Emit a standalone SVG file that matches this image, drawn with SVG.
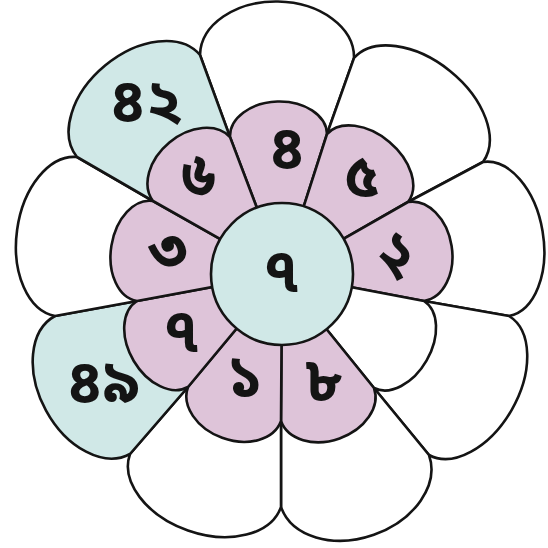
<svg xmlns="http://www.w3.org/2000/svg" width="548" height="548" viewBox="0 0 548 548">
<style>
.p{stroke:#141414;stroke-width:2.6;stroke-linejoin:round}
.w{fill:#ffffff}
.b{fill:#d0e8e7}
.k{fill:#dec4d9}
.t{font-family:"Noto Sans Bengali","Noto Serif Bengali","Lohit Bengali","Noto Sans",sans-serif;font-size:60px;font-weight:700;fill:#141414;text-anchor:middle;dominant-baseline:central}
</style>
<rect width="548" height="548" fill="#ffffff"/>
<g id="outer">
<g id="outer-top"><path class="p w" d="M200 55 A77 55 1.1 0 1 354 58 L327 134 L282 274 L230 137 Z"/></g>
<g id="outer-upper-right"><path class="p w" d="M354 58 A82.9 52 38.9 0 1 483 162 L408 202 L282 274 L327 134 Z"/></g>
<g id="outer-right"><path class="p w" d="M483 162 A78.1 48 80.4 0 1 509 316 L424 301 L282 274 L408 202 Z"/></g>
<g id="outer-lower-right"><path class="p w" d="M509 316 A80.2 50 119.9 0 1 429 455 L374 388 L282 274 L424 301 Z"/></g>
<g id="outer-bottom-right"><path class="p w" d="M429 455 A78.4 57 160.6 0 1 281 507 L281 421 L282 274 L374 388 Z"/></g>
<g id="outer-bottom-left"><path class="p w" d="M281 507 A80 53 199.3 0 1 130 454 L188 387 L282 274 L281 421 Z"/></g>
<g id="outer-lower-left"><path class="p b" d="M130 454 A78.5 53 241.5 0 1 55 316 L137 301 L282 274 L188 387 Z"/><text class="t" x="103" y="386">৪৯</text></g>
<g id="outer-left"><path class="p w" d="M55 316 A80.3 51 277.9 0 1 77 157 L153 201 L282 274 L137 301 Z"/></g>
<g id="outer-upper-left"><path class="p b" d="M77 157 A79.9 53 320.3 0 1 200 55 L230 137 L282 274 L153 201 Z"/><text class="t" x="146" y="105">৪২</text></g>
</g>
<g id="inner">
<g id="inner-top"><path class="p k" d="M230 137 A48.5 34 -1.8 0 1 327 134 L282 274 Z"/><text class="t" x="287" y="152">৪</text></g>
<g id="inner-upper-right"><path class="p k" d="M327 134 A52.9 35 40 0 1 408 202 L282 274 Z"/><text class="t" x="362" y="180">৫</text></g>
<g id="inner-right"><path class="p k" d="M408 202 A50.1 36 80.8 0 1 424 301 L282 274 Z"/><text class="t" x="395" y="258" transform="rotate(30 395 258)">২</text></g>
<g id="inner-lower-right"><path class="p w" d="M424 301 A50.2 33 119.9 0 1 374 388 L282 274 Z"/></g>
<g id="inner-bottom-right"><path class="p k" d="M374 388 A49.3 36 160.5 0 1 281 421 L282 274 Z"/><text class="t" x="324" y="384">৮</text></g>
<g id="inner-bottom-left"><path class="p k" d="M281 421 A49.5 36 200.1 0 1 188 387 L282 274 Z"/><text class="t" x="245" y="380">১</text></g>
<g id="inner-lower-left"><path class="p k" d="M188 387 A50 34 239.3 0 1 137 301 L282 274 Z"/><text class="t" x="181" y="335">৭</text></g>
<g id="inner-left"><path class="p k" d="M137 301 A50.6 34 279.1 0 1 153 201 L282 274 Z"/><text class="t" x="170" y="255" transform="rotate(-20 170 255)">৩</text></g>
<g id="inner-upper-left"><path class="p k" d="M153 201 A50.1 36 320.3 0 1 230 137 L282 274 Z"/><text class="t" x="197" y="180" transform="rotate(20 197 180)">৬</text></g>
</g>
<g id="center"><circle class="p b" cx="282" cy="274" r="71"/><text class="t" x="281" y="275">৭</text></g>
<g id="connectors"></g>
</svg>
